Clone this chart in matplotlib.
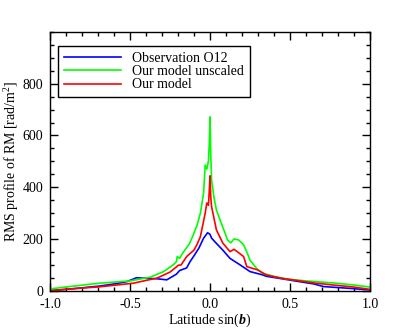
import numpy as np
import matplotlib
matplotlib.use('Agg')
import matplotlib.pyplot as plt
from matplotlib.ticker import MultipleLocator

plt.rcParams['font.family'] = 'Liberation Serif'
plt.rcParams['mathtext.fontset'] = 'custom'
plt.rcParams['mathtext.rm'] = 'Liberation Serif'
plt.rcParams['mathtext.it'] = 'Liberation Serif:italic'
plt.rcParams['mathtext.bf'] = 'Liberation Serif:bold:italic'

# Observation O12 (blue)
obs_x = [-1.0, -0.85, -0.69, -0.6, -0.52, -0.46, -0.4, -0.33, -0.27, -0.21, -0.19, -0.146,
         -0.125, -0.1, -0.07, -0.04, -0.015, 0.0, 0.01, 0.04, 0.08, 0.125, 0.19, 0.25, 0.33,
         0.35, 0.45, 0.56, 0.65, 0.71, 0.875, 1.0]
obs_y = [0, 8, 18, 26, 35, 50, 48, 46, 42, 64, 78, 88,
         112, 135, 164, 203, 224, 218, 203, 183, 157, 125, 99, 74, 61,
         56, 46, 35, 26, 16, 9, 3]

# Our model unscaled (green)
uns_x = [-1.0, -0.85, -0.69, -0.5, -0.375, -0.29, -0.23, -0.21, -0.205, -0.19, -0.17, -0.13,
         -0.105, -0.08, -0.06, -0.04, -0.03, -0.02, -0.01, -0.005, 0.0, 0.005, 0.01, 0.025,
         0.04, 0.07, 0.11, 0.13, 0.15, 0.18, 0.21, 0.23, 0.25, 0.3, 0.33, 0.4, 0.48, 0.6,
         0.77, 0.9, 1.0]
uns_y = [7, 18, 29, 38, 52, 74, 100, 112, 132, 125, 146, 180,
         215, 255, 300, 378, 486, 470, 500, 560, 672, 520, 428, 360,
         312, 262, 196, 185, 200, 196, 177, 150, 118, 80, 68, 55, 45, 38,
         30, 22, 14]

# Our model (red)
mod_x = [-1.0, -0.85, -0.69, -0.48, -0.33, -0.25, -0.21, -0.2, -0.18, -0.146, -0.1, -0.08,
         -0.06, -0.03, -0.02, -0.01, -0.005, 0.0, 0.005, 0.01, 0.04, 0.08, 0.125, 0.15,
         0.17, 0.21, 0.23, 0.3, 0.35, 0.45, 0.56, 0.65, 0.77, 0.9, 1.0]
mod_y = [0, 8, 15, 29, 49, 72, 92, 98, 100, 132, 157, 180,
         209, 300, 339, 330, 380, 444, 360, 325, 235, 184, 151, 160,
         151, 132, 93, 80, 61, 48, 38, 30, 22, 14, 5]

x_ticks = [-1.0, -0.5, 0.0, 0.5, 1.0]
x_ticklabels = ['-1.0', '-0.5', '0.0', '0.5', '1.0']
y_ticks = [0, 200, 400, 600, 800]

fig = plt.figure(figsize=(4, 3.33), dpi=100)
ax = fig.add_axes([0.125, 0.127, 0.8, 0.777])

ax.plot(obs_x, obs_y, color='#0000ff', lw=1.2, label='Observation O12')
ax.plot(uns_x, uns_y, color='#00ff00', lw=1.2, label='Our model unscaled')
ax.plot(mod_x, mod_y, color='#ff0000', lw=1.2, label='Our model')

ax.set_xlim(-1, 1)
ax.set_ylim(0, 1000)
ax.set_xticks(x_ticks)
ax.set_xticklabels(x_ticklabels)
ax.xaxis.set_minor_locator(MultipleLocator(0.1))
ax.set_yticks(y_ticks)
ax.yaxis.set_minor_locator(MultipleLocator(50))
ax.tick_params(which='both', direction='in', top=True, right=True, labelsize=10, width=1)
ax.tick_params(which='major', length=6, pad=5)
ax.tick_params(which='minor', length=3)
for s in ax.spines.values():
    s.set_linewidth(1)

ax.set_xlabel(r'Latitude sin($\mathbf{b}$)', fontsize=10, labelpad=1)
ax.set_ylabel(r'RMS profile of RM [rad/m$^2$]', fontsize=10, labelpad=1)

leg = ax.legend(loc='upper left', bbox_to_anchor=(58 / 400, 1 - 46 / 333),
                bbox_transform=fig.transFigure, borderaxespad=0, fancybox=False,
                edgecolor='black', framealpha=1, fontsize=10, handlelength=4.1,
                handletextpad=0.8, labelspacing=0.02, borderpad=0.42)
leg.get_frame().set_linewidth(1)

fig.savefig('out.png', dpi=100)
